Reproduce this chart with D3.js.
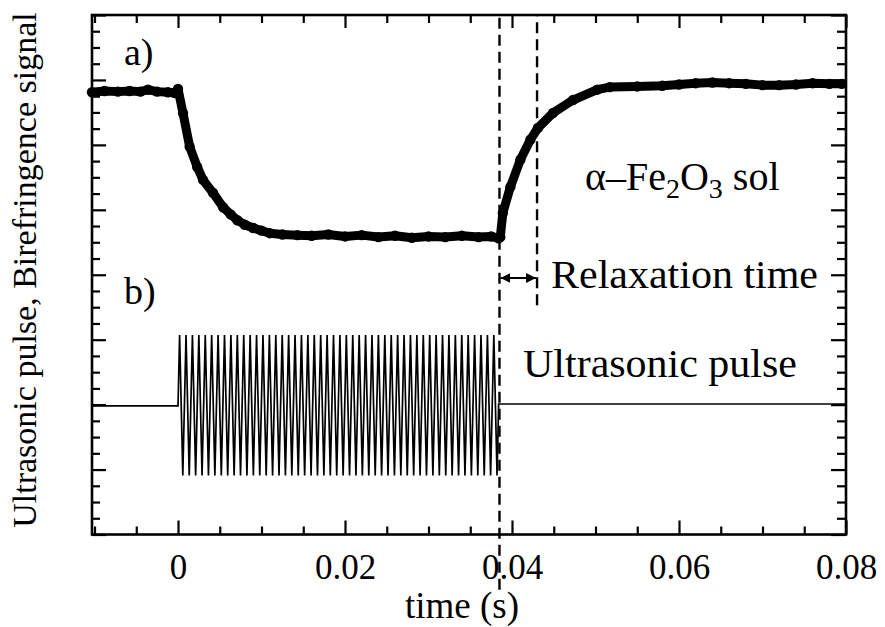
<!DOCTYPE html>
<html>
<head>
<meta charset="utf-8">
<script src="https://cdn.jsdelivr.net/npm/d3@7"></script>
<style>
  body { margin: 0; background: #fff; }
  svg { display: block; }
  text { font-family: "Liberation Serif", "Times New Roman", serif; fill: #000; }
</style>
</head>
<body>
<svg id="chart" width="885" height="627"></svg>
<script>
// ---------- data ----------
// (a) birefringence signal: time (s) and signal (arb. units)
const biroTime = [-0.0103, -0.0088, -0.0072, -0.0058, -0.0045, -0.0036, -0.0025, -0.0012, -0.0004, 0.0000,
  0.0006, 0.0014, 0.0023, 0.0030, 0.0042, 0.0054, 0.0063, 0.0071, 0.0080, 0.0090, 0.0100, 0.0110, 0.0125, 0.0143,
  0.0160, 0.0180, 0.0200, 0.0220, 0.0240, 0.0260, 0.0280, 0.0300, 0.0320, 0.0340, 0.0360, 0.0375, 0.0384,
  0.0386, 0.0389, 0.0398, 0.0410, 0.0422, 0.0431, 0.0449, 0.0473, 0.0502, 0.0517, 0.0550, 0.0580,
  0.0600, 0.0620, 0.0640, 0.0660, 0.0680, 0.0700, 0.0720, 0.0740, 0.0760, 0.0780, 0.0795];
const biroValue = [6.81, 6.83, 6.82, 6.83, 6.82, 6.85, 6.82, 6.81, 6.80, 6.86,
  6.49, 5.97, 5.66, 5.46, 5.26, 5.04, 4.93, 4.84, 4.77, 4.72, 4.68, 4.64, 4.62, 4.61,
  4.60, 4.62, 4.59, 4.61, 4.58, 4.60, 4.57, 4.59, 4.58, 4.60, 4.58, 4.59, 4.56,
  4.58, 4.95, 5.35, 5.77, 6.08, 6.26, 6.49, 6.69, 6.85, 6.89, 6.90, 6.91,
  6.93, 6.95, 6.96, 6.95, 6.94, 6.92, 6.92, 6.93, 6.95, 6.94, 6.94];

// (b) ultrasonic pulse: baseline levels, burst start/end (s) and successive extrema
const pulseBaseBefore = 1.98;
const pulseBaseAfter = 2.01;
const pulseStart = 0.0000;
const pulseEnd = 0.0384;
const pulseExtrema = [
  3.07,0.91,3.07,0.91,3.07,0.91,3.07,0.91,3.07,0.91,
  3.07,0.91,3.07,0.91,3.07,0.91,3.07,0.91,3.07,0.91,
  3.07,0.91,3.07,0.91,3.07,0.91,3.07,0.91,3.07,0.91,
  3.07,0.91,3.07,0.91,3.07,0.91,3.07,0.91,3.07,0.91,
  3.07,0.91,3.07,0.91,3.07,0.91,3.07,0.91,3.07,0.91,
  3.07,0.91,3.07,0.91,3.07,0.91,3.07,0.91,3.07,0.91,
  3.07,0.91,3.07,0.91,3.07,0.91,3.07,0.91,3.07,0.91,
  3.07,0.91,3.07,0.91,3.07,0.91,3.07,0.91,3.07,0.91,
  3.07,0.91,3.07,0.91,3.07,0.91,3.07,0.91,3.07,0.91,
  3.07,0.91,3.07,0.91,3.07,0.91,3.07,0.91,3.07,0.91];

// relaxation-time markers (s)
const relaxStart = 0.0385;
const relaxEnd = 0.0430;
const relaxArrowLevel = 3.95;
const dashStartExtent = [-0.85, 8];
const dashEndExtent = [3.53, 8];

// axes
const xDomain = [-0.0103, 0.08];
const yDomain = [0, 8];
const xMajorTicks = [0, 0.02, 0.04, 0.06, 0.08];
const xTickLabels = ["0", "0.02", "0.04", "0.06", "0.08"];
const xMinorTicks = [-0.01, -0.005, 0.005, 0.01, 0.015, 0.025, 0.03, 0.035, 0.045, 0.05, 0.055, 0.065, 0.07, 0.075];
const yMajorTicks = [0, 1, 2, 3, 4, 5, 6, 7, 8];
const yMinorTicks = [0.25,0.5,0.75,1.25,1.5,1.75,2.25,2.5,2.75,3.25,3.5,3.75,4.25,4.5,4.75,5.25,5.5,5.75,6.25,6.5,6.75,7.25,7.5,7.75];

// ---------- drawing ----------
const svg = d3.select("#chart");
const L = 92, R = 846, T = 15, B = 534.5;
const x = d3.scaleLinear().domain(xDomain).range([L, R]);
const y = d3.scaleLinear().domain(yDomain).range([B, T]);

const axisStyle = g => {
  g.select(".domain").remove();
  g.selectAll(".tick line").attr("stroke", "#000").attr("stroke-width", 2.2);
};

// bottom axis (inward ticks)
svg.append("g").attr("transform", `translate(0,${B})`)
  .call(d3.axisBottom(x).tickValues(xMinorTicks).tickSize(-8).tickFormat(""))
  .call(axisStyle);
const bx = svg.append("g").attr("transform", `translate(0,${B})`)
  .call(d3.axisBottom(x).tickValues(xMajorTicks).tickSize(-14)
    .tickFormat((d, i) => xTickLabels[i]))
  .call(axisStyle);
bx.selectAll(".tick text").attr("font-size", 35).attr("dy", 0).attr("y", 44)
  .attr("font-family", "Liberation Serif, Times New Roman, serif");

// top axis
svg.append("g").attr("transform", `translate(0,${T})`)
  .call(d3.axisTop(x).tickValues(xMinorTicks).tickSize(-8).tickFormat(""))
  .call(axisStyle);
svg.append("g").attr("transform", `translate(0,${T})`)
  .call(d3.axisTop(x).tickValues(xMajorTicks).tickSize(-13).tickFormat(""))
  .call(axisStyle);

// left axis
svg.append("g").attr("transform", `translate(${L},0)`)
  .call(d3.axisLeft(y).tickValues(yMinorTicks).tickSize(-8).tickFormat(""))
  .call(axisStyle);
svg.append("g").attr("transform", `translate(${L},0)`)
  .call(d3.axisLeft(y).tickValues(yMajorTicks).tickSize(-14).tickFormat(""))
  .call(axisStyle);

// right axis
svg.append("g").attr("transform", `translate(${R},0)`)
  .call(d3.axisRight(y).tickValues(yMinorTicks).tickSize(-9).tickFormat(""))
  .call(axisStyle);
svg.append("g").attr("transform", `translate(${R},0)`)
  .call(d3.axisRight(y).tickValues(yMajorTicks).tickSize(-15).tickFormat(""))
  .call(axisStyle);

// frame
svg.append("rect").attr("x", L).attr("y", T).attr("width", R - L).attr("height", B - T)
  .attr("fill", "none").attr("stroke", "#000").attr("stroke-width", 2.6);

// pulse (b)
const half = (pulseEnd - pulseStart) / pulseExtrema.length;
const pulsePts = [[xDomain[0], pulseBaseBefore], [pulseStart, pulseBaseBefore]];
pulseExtrema.forEach((v, i) => pulsePts.push([pulseStart + (i + 0.5) * half, v]));
pulsePts.push([pulseEnd, pulseBaseAfter], [xDomain[1], pulseBaseAfter]);
const line = d3.line().x(d => x(d[0])).y(d => y(d[1]));
svg.append("path").datum(pulsePts).attr("d", line)
  .attr("fill", "none").attr("stroke", "#000").attr("stroke-width", 1.7)
  .attr("stroke-linejoin", "miter").attr("stroke-miterlimit", 3);

// birefringence (a)
const biro = biroTime.map((t, i) => [t, biroValue[i]]);
svg.append("path").datum(biro).attr("d", line)
  .attr("fill", "none").attr("stroke", "#000").attr("stroke-width", 9)
  .attr("stroke-linejoin", "round").attr("stroke-linecap", "round");
svg.append("g").selectAll("circle").data(biro).join("circle")
  .attr("cx", d => x(d[0])).attr("cy", d => y(d[1])).attr("r", 5.2).attr("fill", "#000");

// dashed markers
svg.append("line").attr("x1", x(relaxStart)).attr("x2", x(relaxStart))
  .attr("y1", y(dashStartExtent[0])).attr("y2", y(dashStartExtent[1]))
  .attr("stroke", "#000").attr("stroke-width", 2.4).attr("stroke-dasharray", "11,6");
svg.append("line").attr("x1", x(relaxEnd)).attr("x2", x(relaxEnd))
  .attr("y1", y(dashEndExtent[0])).attr("y2", y(dashEndExtent[1]))
  .attr("stroke", "#000").attr("stroke-width", 2.4).attr("stroke-dasharray", "11,6");

// arrow
const defs = svg.append("defs");
defs.append("marker").attr("id", "ah").attr("viewBox", "0 0 10 10").attr("refX", 10).attr("refY", 5)
  .attr("markerWidth", 10).attr("markerHeight", 10).attr("markerUnits", "userSpaceOnUse")
  .attr("orient", "auto-start-reverse")
  .append("path").attr("d", "M0,0 L10,5 L0,10 Z").attr("fill", "#000");
svg.append("line").attr("x1", x(relaxStart) + 1).attr("x2", x(relaxEnd) - 1)
  .attr("y1", y(relaxArrowLevel)).attr("y2", y(relaxArrowLevel))
  .attr("stroke", "#000").attr("stroke-width", 1.8)
  .attr("marker-start", "url(#ah)").attr("marker-end", "url(#ah)");

// texts
svg.append("text").attr("x", 551).attr("y", 288).attr("font-size", 40)
  .attr("textLength", 267).attr("lengthAdjust", "spacingAndGlyphs").text("Relaxation time");
svg.append("text").attr("x", 523).attr("y", 377).attr("font-size", 40)
  .attr("textLength", 274).attr("lengthAdjust", "spacingAndGlyphs").text("Ultrasonic pulse");
const fe = svg.append("text").attr("x", 585).attr("y", 190).attr("font-size", 40);
fe.append("tspan").text("α–Fe");
fe.append("tspan").attr("font-size", 28).attr("dy", 8).text("2");
fe.append("tspan").attr("dy", -8).text("O");
fe.append("tspan").attr("font-size", 28).attr("dy", 8).text("3");
fe.append("tspan").attr("dy", -8).text(" sol");
svg.append("text").attr("x", 124).attr("y", 65).attr("font-size", 38).text("a)");
svg.append("text").attr("x", 124).attr("y", 304).attr("font-size", 38).text("b)");

svg.append("text").attr("x", 462).attr("y", 618).attr("font-size", 37)
  .attr("text-anchor", "middle").text("time (s)");
svg.append("text").attr("transform", "translate(36,270) rotate(-90)")
  .attr("text-anchor", "middle").attr("font-size", 34)
  .text("Ultrasonic pulse, Birefringence signal");
</script>
</body>
</html>
